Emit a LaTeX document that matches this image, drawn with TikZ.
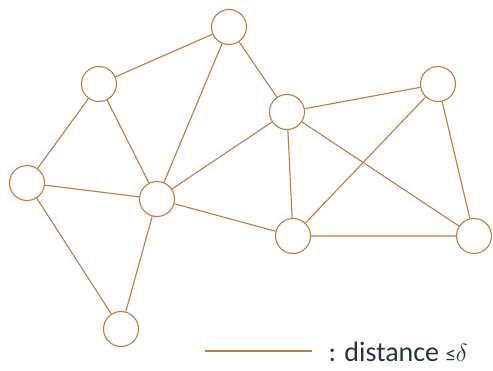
\documentclass[tikz,border=0pt]{standalone}
\usepackage{fontspec}
\setmainfont{Carlito}
\definecolor{edgebrown}{RGB}{196,122,62}
\definecolor{labelnavy}{RGB}{40,50,72}
\begin{document}
\begin{tikzpicture}[x=1pt, y=-1pt, every node/.style={circle, draw=edgebrown, line width=1.1pt, minimum size=35pt, inner sep=0pt}]
            \useasboundingbox (0,0) rectangle (493,370);
            \foreach \i/\x/\y in {1/229/27,2/99/84,3/287/112,4/438/84,5/27/183,6/157/199,7/293/236,8/474/236,9/121/329} {
                \node (v\i) at (\x,\y) {};
            }
            \draw[edgebrown, line width=1.1pt] (v2)--(v1)--(v3)--(v4)--(v8)--(v7)--(v6)--(v5)--(v2)--(v6)--(v1);
            \draw[edgebrown, line width=1.1pt] (v5)--(v9)--(v6)--(v3)--(v7)--(v4);
            \draw[edgebrown, line width=1.1pt] (v3)--(v8);
            % legend
            \coordinate (l1) at (205,351);
            \coordinate (l2) at (312,351);
            \draw[edgebrown, line width=1.4pt] (l1)--(l2);
            \node[draw=none, circle=false, rectangle, minimum size=0pt, anchor=base west, text=labelnavy, font=\fontsize{28}{33}\selectfont] (lbl) at (328,361) {: distance {\fontsize{21}{24}\selectfont ≤}$\delta$};
        \end{tikzpicture}
\end{document}
